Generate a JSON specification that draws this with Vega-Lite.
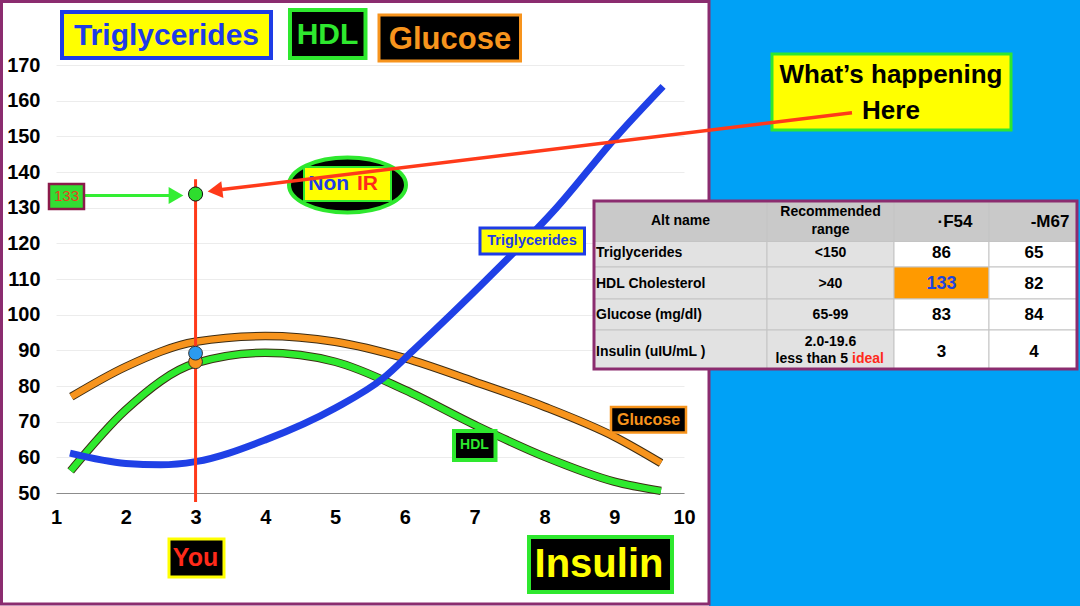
{
  "$schema": "https://vega.github.io/schema/vega-lite/v6.json",
  "width": 628,
  "height": 428,
  "autosize": {"type": "none"},
  "padding": {"left": 56, "top": 65, "right": 396, "bottom": 113},
  "background": "#ffffff",
  "config": {
    "view": {"stroke": null},
    "font": "Liberation Sans",
    "text": {"font": "Liberation Sans", "fontWeight": "bold", "align": "center", "baseline": "middle"}
  },
  "datasets": {
    "curves": [
      {"series": "HDL", "x": 1.21, "y": 56.2},
      {"series": "HDL", "x": 2, "y": 73.3},
      {"series": "HDL", "x": 3, "y": 86.4},
      {"series": "HDL", "x": 4, "y": 89.3},
      {"series": "HDL", "x": 5, "y": 86.8},
      {"series": "HDL", "x": 6, "y": 78.9},
      {"series": "HDL", "x": 7, "y": 69.1},
      {"series": "HDL", "x": 8, "y": 60.2},
      {"series": "HDL", "x": 9, "y": 53.2},
      {"series": "HDL", "x": 9.67, "y": 50.6},
      {"series": "Glucose", "x": 1.22, "y": 77},
      {"series": "Glucose", "x": 2, "y": 85.4},
      {"series": "Glucose", "x": 3, "y": 92.4},
      {"series": "Glucose", "x": 4, "y": 94},
      {"series": "Glucose", "x": 5, "y": 92.4},
      {"series": "Glucose", "x": 6, "y": 87.8},
      {"series": "Glucose", "x": 7, "y": 81.2},
      {"series": "Glucose", "x": 8, "y": 74.2},
      {"series": "Glucose", "x": 9, "y": 65.8},
      {"series": "Glucose", "x": 9.67, "y": 58.4},
      {"series": "Triglycerides", "x": 1.2, "y": 61.2},
      {"series": "Triglycerides", "x": 2, "y": 58.3},
      {"series": "Triglycerides", "x": 2.5, "y": 57.9},
      {"series": "Triglycerides", "x": 3, "y": 58.8},
      {"series": "Triglycerides", "x": 4, "y": 64.9},
      {"series": "Triglycerides", "x": 5, "y": 73.8},
      {"series": "Triglycerides", "x": 5.69, "y": 82.2},
      {"series": "Triglycerides", "x": 6.12, "y": 90},
      {"series": "Triglycerides", "x": 7.18, "y": 110},
      {"series": "Triglycerides", "x": 8.175, "y": 130},
      {"series": "Triglycerides", "x": 9.035, "y": 150},
      {"series": "Triglycerides", "x": 9.7, "y": 164}
    ],
    "cells": [
      {"kind": "header", "x": 8.7102, "x2": 11.1895, "y": 131.869, "y2": 120.514},
      {"kind": "header", "x": 11.1895, "x2": 13.0096, "y": 131.869, "y2": 120.514},
      {"kind": "header", "x": 13.0096, "x2": 14.371, "y": 131.869, "y2": 120.514},
      {"kind": "header", "x": 14.371, "x2": 15.6322, "y": 131.869, "y2": 120.514},
      {"kind": "label", "x": 8.7102, "x2": 11.1895, "y": 120.514, "y2": 113.364},
      {"kind": "label", "x": 11.1895, "x2": 13.0096, "y": 120.514, "y2": 113.364},
      {"kind": "value", "x": 13.0096, "x2": 14.371, "y": 120.514, "y2": 113.364},
      {"kind": "value", "x": 14.371, "x2": 15.6322, "y": 120.514, "y2": 113.364},
      {"kind": "label", "x": 8.7102, "x2": 11.1895, "y": 113.364, "y2": 104.393},
      {"kind": "label", "x": 11.1895, "x2": 13.0096, "y": 113.364, "y2": 104.393},
      {"kind": "highlight", "x": 13.0096, "x2": 14.371, "y": 113.364, "y2": 104.393},
      {"kind": "value", "x": 14.371, "x2": 15.6322, "y": 113.364, "y2": 104.393},
      {"kind": "label", "x": 8.7102, "x2": 11.1895, "y": 104.393, "y2": 95.701},
      {"kind": "label", "x": 11.1895, "x2": 13.0096, "y": 104.393, "y2": 95.701},
      {"kind": "value", "x": 13.0096, "x2": 14.371, "y": 104.393, "y2": 95.701},
      {"kind": "value", "x": 14.371, "x2": 15.6322, "y": 104.393, "y2": 95.701},
      {"kind": "label", "x": 8.7102, "x2": 11.1895, "y": 95.701, "y2": 84.766},
      {"kind": "label", "x": 11.1895, "x2": 13.0096, "y": 95.701, "y2": 84.766},
      {"kind": "value", "x": 13.0096, "x2": 14.371, "y": 95.701, "y2": 84.766},
      {"kind": "value", "x": 14.371, "x2": 15.6322, "y": 95.701, "y2": 84.766}
    ]
  },
  "encoding": {
    "x": {
      "field": "x", "type": "quantitative",
      "scale": {"domain": [1, 10], "nice": false, "zero": false},
      "axis": {
        "values": [1, 2, 3, 4, 5, 6, 7, 8, 9, 10], "title": null, "grid": false, "ticks": false,
        "domainColor": "#8c8c8c", "domainWidth": 1.2, "labelPadding": 14,
        "labelFont": "Liberation Sans", "labelFontSize": 20, "labelFontWeight": "bold", "labelColor": "#000000",
        "labelOverlap": false, "labelFlush": false
      }
    },
    "y": {
      "field": "y", "type": "quantitative",
      "scale": {"domain": [50, 170], "nice": false, "zero": false},
      "axis": {
        "values": [50, 60, 70, 80, 90, 100, 110, 120, 130, 140, 150, 160, 170], "title": null, "grid": true,
        "gridColor": "#ececec", "gridWidth": 1, "domain": false, "ticks": false, "labelPadding": 16,
        "labelFont": "Liberation Sans", "labelFontSize": 20, "labelFontWeight": "bold", "labelColor": "#000000",
        "labelOverlap": false, "labelFlush": false
      }
    }
  },
  "layer": [
    {"data": {"values": [{"x": 10.358, "x2": 15.69, "y": 188.6, "y2": 18.0}]},
     "mark": {"type": "rect", "fill": "#00a1f6"},
     "encoding": {"x2": {"field": "x2"}, "y2": {"field": "y2"}}},
    {"data": {"values": [{"x": 0.2189, "x2": 10.3583, "y": 187.804, "y2": 18.879}]},
     "mark": {"type": "rect", "fill": "transparent", "stroke": "#8b2c6f", "strokeWidth": 3},
     "encoding": {"x2": {"field": "x2"}, "y2": {"field": "y2"}}},
    {"data": {"name": "curves"}, "transform": [{"filter": "datum.series !== 'Triglycerides'"}],
     "mark": {"type": "line", "stroke": "#3c2c14", "strokeWidth": 8.5, "interpolate": "monotone"},
     "encoding": {"detail": {"field": "series"}}},
    {"data": {"name": "curves"}, "transform": [{"filter": "datum.series === 'HDL'"}],
     "mark": {"type": "line", "stroke": "#2eea2e", "strokeWidth": 6.5, "interpolate": "monotone"},
     "encoding": {}},
    {"data": {"name": "curves"}, "transform": [{"filter": "datum.series === 'Glucose'"}],
     "mark": {"type": "line", "stroke": "#f7941d", "strokeWidth": 6.5, "interpolate": "monotone"},
     "encoding": {}},
    {"data": {"name": "curves"}, "transform": [{"filter": "datum.series === 'Triglycerides'"}],
     "mark": {"type": "line", "stroke": "#1f40e6", "strokeWidth": 7, "interpolate": "monotone"},
     "encoding": {}},
    {"data": {"values": [{"x": 3, "y": 138.0, "y2": 47.5}]},
     "mark": {"type": "rule", "stroke": "#ff3a1a", "strokeWidth": 3},
     "encoding": {"y2": {"field": "y2"}}},
    {"data": {"values": [{"x": 3, "y": 86.8}]},
     "mark": {"type": "point", "filled": true, "fill": "#f7941d", "stroke": "#333333", "strokeWidth": 1, "size": 190, "opacity": 1}},
    {"data": {"values": [{"x": 3, "y": 89.2}]},
     "mark": {"type": "point", "filled": true, "fill": "#2b9bf0", "stroke": "#333333", "strokeWidth": 1, "size": 190, "opacity": 1}},
    {"data": {"values": [{"x": 3, "y": 133.83}]},
     "mark": {"type": "point", "filled": true, "fill": "#2edd2e", "stroke": "#111111", "strokeWidth": 1, "size": 200, "opacity": 1}},
    {"data": {"values": [{"x": 1.4156, "x2": 2.62, "y": 133.4}]},
     "mark": {"type": "rule", "stroke": "#33ee33", "strokeWidth": 3},
     "encoding": {"x2": {"field": "x2"}}},
    {"data": {"values": [{"x": 2.7197, "y": 133.4}]},
     "mark": {"type": "point", "shape": "triangle-right", "filled": true, "fill": "#33ee33", "size": 290, "opacity": 1}},
    {"data": {"values": [{"x": 0.8997, "x2": 1.4013, "y": 136.636, "y2": 129.626}]},
     "mark": {"type": "rect", "fill": "#33dd33", "stroke": "#8b1a4a", "strokeWidth": 2.5},
     "encoding": {"x2": {"field": "x2"}, "y2": {"field": "y2"}}},
    {"data": {"values": [{"x": 1.1505, "y": 133.131, "label": "133"}]},
     "mark": {"type": "text", "fill": "#e8401e", "fontSize": 15, "fontWeight": "normal"},
     "encoding": {"text": {"field": "label"}}},
    {"data": {"values": [{"x": 5.1775, "y": 136.355}]},
     "mark": {"type": "point", "shape": "M -1 0 C -1 -0.2596 -0.5523 -0.47 0 -0.47 C 0.5523 -0.47 1 -0.2596 1 0 C 1 0.2596 0.5523 0.47 0 0.47 C -0.5523 0.47 -1 0.2596 -1 0 Z", "filled": true, "fill": "#000000", "stroke": "#2ee82e", "strokeWidth": 4, "size": 13689, "opacity": 1}},
    {"data": {"values": [{"x": 4.5541, "x2": 5.801, "y": 141.402, "y2": 131.869}]},
     "mark": {"type": "rect", "fill": "#ffff00", "stroke": "#2ee82e", "strokeWidth": 2},
     "encoding": {"x2": {"field": "x2"}, "y2": {"field": "y2"}}},
    {"data": {"values": [{"x": 4.9089, "y": 136.636, "label": "Non"}]},
     "mark": {"type": "text", "fill": "#1e3ce6", "fontSize": 21},
     "encoding": {"text": {"field": "label"}}},
    {"data": {"values": [{"x": 5.4642, "y": 136.636, "label": "IR"}]},
     "mark": {"type": "text", "fill": "#ff2a1a", "fontSize": 21},
     "encoding": {"text": {"field": "label"}}},
    {"data": {"values": [{"x": 1.086, "x2": 4.0812, "y": 184.86, "y2": 171.963}]},
     "mark": {"type": "rect", "fill": "#ffff00", "stroke": "#1e3ce6", "strokeWidth": 4},
     "encoding": {"x2": {"field": "x2"}, "y2": {"field": "y2"}}},
    {"data": {"values": [{"x": 2.5836, "y": 177.991, "label": "Triglycerides"}]},
     "mark": {"type": "text", "fill": "#1e3ce6", "fontSize": 30},
     "encoding": {"text": {"field": "label"}}},
    {"data": {"values": [{"x": 4.3535, "x2": 5.4355, "y": 185.421, "y2": 171.963}]},
     "mark": {"type": "rect", "fill": "#000000", "stroke": "#2ee82e", "strokeWidth": 4},
     "encoding": {"x2": {"field": "x2"}, "y2": {"field": "y2"}}},
    {"data": {"values": [{"x": 4.8909, "y": 178.411, "label": "HDL"}]},
     "mark": {"type": "text", "fill": "#2ee82e", "fontSize": 30},
     "encoding": {"text": {"field": "label"}}},
    {"data": {"values": [{"x": 5.629, "x2": 7.6569, "y": 184.019, "y2": 171.121}]},
     "mark": {"type": "rect", "fill": "#000000", "stroke": "#f7941d", "strokeWidth": 3},
     "encoding": {"x2": {"field": "x2"}, "y2": {"field": "y2"}}},
    {"data": {"values": [{"x": 6.6465, "y": 177.009, "label": "Glucose"}]},
     "mark": {"type": "text", "fill": "#f7941d", "fontSize": 31},
     "encoding": {"text": {"field": "label"}}},
    {"data": {"values": [{"x": 7.0764, "x2": 8.5741, "y": 124.299, "y2": 117.009}]},
     "mark": {"type": "rect", "fill": "#ffff00", "stroke": "#1e3ce6", "strokeWidth": 3},
     "encoding": {"x2": {"field": "x2"}, "y2": {"field": "y2"}}},
    {"data": {"values": [{"x": 7.8217, "y": 120.654, "label": "Triglycerides"}]},
     "mark": {"type": "text", "fill": "#1e3ce6", "fontSize": 14.5},
     "encoding": {"text": {"field": "label"}}},
    {"data": {"values": [{"x": 8.9538, "x2": 10.0287, "y": 74.112, "y2": 66.963}]},
     "mark": {"type": "rect", "fill": "#000000", "stroke": "#f7941d", "strokeWidth": 2.5},
     "encoding": {"x2": {"field": "x2"}, "y2": {"field": "y2"}}},
    {"data": {"values": [{"x": 9.4912, "y": 70.467, "label": "Glucose"}]},
     "mark": {"type": "text", "fill": "#f7941d", "fontSize": 16},
     "encoding": {"text": {"field": "label"}}},
    {"data": {"values": [{"x": 6.7038, "x2": 7.2986, "y": 67.383, "y2": 59.252}]},
     "mark": {"type": "rect", "fill": "#000000", "stroke": "#2ee82e", "strokeWidth": 4},
     "encoding": {"x2": {"field": "x2"}, "y2": {"field": "y2"}}},
    {"data": {"values": [{"x": 6.9977, "y": 63.318, "label": "HDL"}]},
     "mark": {"type": "text", "fill": "#2ee82e", "fontSize": 14},
     "encoding": {"text": {"field": "label"}}},
    {"data": {"values": [{"x": 2.6194, "x2": 3.4076, "y": 37.103, "y2": 26.449}]},
     "mark": {"type": "rect", "fill": "#000000", "stroke": "#ffff00", "strokeWidth": 3},
     "encoding": {"x2": {"field": "x2"}, "y2": {"field": "y2"}}},
    {"data": {"values": [{"x": 3.0, "y": 31.776, "label": "You"}]},
     "mark": {"type": "text", "fill": "#ff2a1a", "fontSize": 25},
     "encoding": {"text": {"field": "label"}}},
    {"data": {"values": [{"x": 7.7787, "x2": 9.828, "y": 37.664, "y2": 22.243}]},
     "mark": {"type": "rect", "fill": "#000000", "stroke": "#2ee82e", "strokeWidth": 4},
     "encoding": {"x2": {"field": "x2"}, "y2": {"field": "y2"}}},
    {"data": {"values": [{"x": 8.7818, "y": 29.813, "label": "Insulin"}]},
     "mark": {"type": "text", "fill": "#ffff00", "fontSize": 40},
     "encoding": {"text": {"field": "label"}}},
    {"data": {"values": [{"x": 11.2611, "x2": 14.6863, "y": 173.084, "y2": 151.776}]},
     "mark": {"type": "rect", "fill": "#ffff00", "stroke": "#2ee82e", "strokeWidth": 3},
     "encoding": {"x2": {"field": "x2"}, "y2": {"field": "y2"}}},
    {"data": {"values": [{"x": 12.9666, "y": 167.196, "label": "What’s happening\nHere"}]},
     "mark": {"type": "text", "fill": "#000000", "fontSize": 26, "lineBreak": "\n", "lineHeight": 36},
     "encoding": {"text": {"field": "label"}}},
    {"data": {"values": [{"x": 12.4076, "y": 156.626, "x2": 3.379, "y2": 135.065}]},
     "mark": {"type": "rule", "stroke": "#ff3a1a", "strokeWidth": 3.5},
     "encoding": {"x2": {"field": "x2"}, "y2": {"field": "y2"}}},
    {"data": {"values": [{"x": 3.2787, "y": 134.813}]},
     "mark": {"type": "point", "shape": "triangle-left", "angle": 353, "filled": true, "fill": "#ff3a1a", "size": 290, "opacity": 1}},
    {"data": {"name": "cells"},
     "mark": {"type": "rect", "stroke": "#c4c4c4", "strokeWidth": 1},
     "encoding": {
       "x2": {"field": "x2"}, "y2": {"field": "y2"},
       "fill": {"field": "kind", "type": "nominal", "legend": null,
                "scale": {"domain": ["header", "label", "value", "highlight"], "range": ["#c9c9c9", "#e2e2e2", "#ffffff", "#ff9a00"]}}
     }},
    {"data": {"values": [{"x": 8.7102, "x2": 15.6322, "y": 131.869, "y2": 84.766}]},
     "mark": {"type": "rect", "fill": "transparent", "stroke": "#8b2c6f", "strokeWidth": 3},
     "encoding": {"x2": {"field": "x2"}, "y2": {"field": "y2"}}},
    {"data": {"values": [
       {"x": 9.95, "y": 126.262, "label": "Alt name"},
       {"x": 12.0995, "y": 128.701, "label": "Recommended\nrange"}
     ]},
     "mark": {"type": "text", "fill": "#000000", "fontSize": 14, "lineBreak": "\n", "lineHeight": 17.7},
     "encoding": {"text": {"field": "label"}}},
    {"data": {"values": [
       {"x": 13.884, "y": 126.1, "label": "·F54"},
       {"x": 15.245, "y": 126.1, "label": "-M67"}
     ]},
     "mark": {"type": "text", "fill": "#000000", "fontSize": 17},
     "encoding": {"text": {"field": "label"}}},
    {"data": {"values": [
       {"x": 8.7389, "y": 117.15, "label": "Triglycerides"},
       {"x": 8.7389, "y": 108.514, "label": "HDL Cholesterol"},
       {"x": 8.7389, "y": 99.907, "label": "Glucose (mg/dl)"},
       {"x": 8.7389, "y": 89.617, "label": "Insulin (uIU/mL )"}
     ]},
     "mark": {"type": "text", "fill": "#000000", "fontSize": 14, "align": "left"},
     "encoding": {"text": {"field": "label"}}},
    {"data": {"values": [
       {"x": 12.0995, "y": 117.15, "label": "<150"},
       {"x": 12.0995, "y": 108.514, "label": ">40"},
       {"x": 12.0995, "y": 99.907, "label": "65-99"},
       {"x": 12.0995, "y": 92.421, "label": "2.0-19.6"}
     ]},
     "mark": {"type": "text", "fill": "#000000", "fontSize": 14},
     "encoding": {"text": {"field": "label"}}},
    {"data": {"values": [{"x": 12.3503, "y": 87.486, "label": "less than 5"}]},
     "mark": {"type": "text", "fill": "#000000", "fontSize": 14, "align": "right"},
     "encoding": {"text": {"field": "label"}}},
    {"data": {"values": [{"x": 12.4076, "y": 87.486, "label": "ideal"}]},
     "mark": {"type": "text", "fill": "#ff2a1a", "fontSize": 14, "align": "left"},
     "encoding": {"text": {"field": "label"}}},
    {"data": {"values": [
       {"x": 13.69, "y": 117.15, "label": "86"},
       {"x": 15.016, "y": 117.15, "label": "65"},
       {"x": 15.016, "y": 108.514, "label": "82"},
       {"x": 13.69, "y": 99.907, "label": "83"},
       {"x": 15.016, "y": 99.907, "label": "84"},
       {"x": 13.69, "y": 89.617, "label": "3"},
       {"x": 15.016, "y": 89.617, "label": "4"}
     ]},
     "mark": {"type": "text", "fill": "#000000", "fontSize": 17},
     "encoding": {"text": {"field": "label"}}},
    {"data": {"values": [{"x": 13.69, "y": 108.514, "label": "133"}]},
     "mark": {"type": "text", "fill": "#2244dd", "fontSize": 18},
     "encoding": {"text": {"field": "label"}}}
  ]
}
